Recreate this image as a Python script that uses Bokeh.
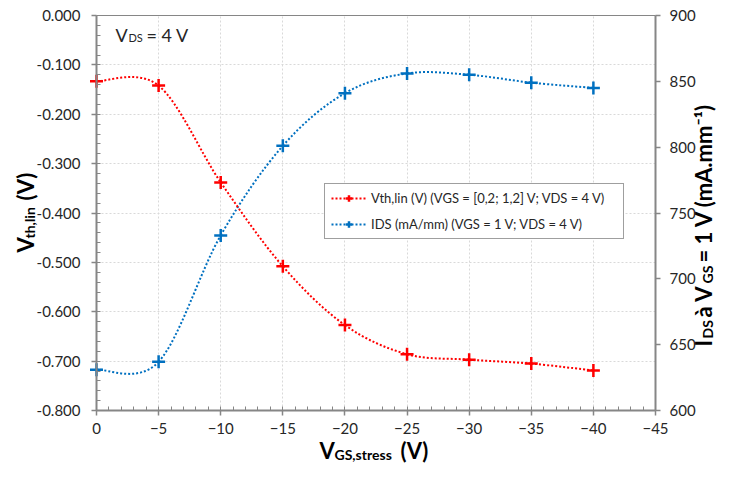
import numpy as np
from math import pi
from bokeh.plotting import figure
from bokeh.models import (Range1d, LinearAxis, FixedTicker, NumeralTickFormatter,
                          Label, Legend, LegendItem, ColumnDataSource, Grid)
from bokeh.embed import file_html
from bokeh.resources import INLINE

# ---- data ----
vgs_stress = [0, -5, -10, -15, -20, -25, -30, -35, -40]
vth_lin = [-0.133, -0.142, -0.338, -0.508, -0.627, -0.686, -0.697, -0.705, -0.719]
ids_ma_mm = [631, 637, 733, 801, 841, 856, 855, 849, 845]

x_ticks = [0, -5, -10, -15, -20, -25, -30, -35, -40, -45]
vth_ticks = [-0.8, -0.7, -0.6, -0.5, -0.4, -0.3, -0.2, -0.1, 0.0]
ids_ticks = [600, 650, 700, 750, 800, 850, 900]
legend_labels = ["Vth,lin (V) (VGS = [0,2; 1,2] V; VDS = 4 V)",
                 "IDS (mA/mm) (VGS = 1 V; VDS = 4 V)"]

RED = "#FF0000"
BLUE = "#0070C0"
GRAY = "#868686"
TXT = "#262626"
FONT = "Lato"

# ---- layout: canvas size and plot-box position (pixels) ----
W, H = 721, 467
PL, PR, PT, PB = 96, 655, 15, 410
X0, X1 = 0.0, -45.0          # x values at the left / right of the plot box
V_TOP, V_BOT = 0.0, -0.8     # left axis
I_TOP, I_BOT = 900.0, 600.0  # right axis


def x_at(px):
    return X0 + (px - PL) * (X1 - X0) / (PR - PL)


def v_at(py, top, bot):
    return top + (py - PT) * (bot - top) / (PB - PT)


def smooth_segments(xs, ys):
    n = len(xs)
    d = {k: [] for k in ("x0", "y0", "x1", "y1", "cx0", "cy0", "cx1", "cy1")}
    for i in range(n - 1):
        a = max(i - 1, 0)
        b = min(i + 2, n - 1)
        d["x0"].append(xs[i]); d["y0"].append(ys[i])
        d["x1"].append(xs[i + 1]); d["y1"].append(ys[i + 1])
        d["cx0"].append(xs[i] + (xs[i + 1] - xs[a]) / 6.0)
        d["cy0"].append(ys[i] + (ys[i + 1] - ys[a]) / 6.0)
        d["cx1"].append(xs[i + 1] - (xs[b] - xs[i]) / 6.0)
        d["cy1"].append(ys[i + 1] - (ys[b] - ys[i]) / 6.0)
    return ColumnDataSource(d)


p = figure(width=W, height=H, title=None,
           x_range=Range1d(x_at(0), x_at(W)),
           y_range=Range1d(v_at(H, V_TOP, V_BOT), v_at(0, V_TOP, V_BOT)),
           output_backend="svg", toolbar_location=None,
           min_border=0, min_border_left=0, min_border_right=0,
           min_border_top=0, min_border_bottom=0)
p.extra_y_ranges = {"ids": Range1d(v_at(H, I_TOP, I_BOT), v_at(0, I_TOP, I_BOT))}
p.background_fill_color = "white"
p.border_fill_color = "white"
p.outline_line_color = None

# axes pinned to the plot box
xa = p.xaxis[0]
xa.ticker = FixedTicker(ticks=x_ticks, minor_ticks=list(range(0, -46, -1)))
xa.fixed_location = V_BOT
xa.bounds = (X1, X0)

ya = p.yaxis[0]
ya.ticker = FixedTicker(ticks=vth_ticks,
                        minor_ticks=[round(v, 3) for v in np.arange(-0.8, 0.0001, 0.02)])
ya.formatter = NumeralTickFormatter(format="0.000")
ya.fixed_location = X0
ya.bounds = (V_BOT, V_TOP)

ra = LinearAxis(y_range_name="ids", ticker=FixedTicker(ticks=ids_ticks),
                fixed_location=X1, bounds=(I_BOT, I_TOP))
p.add_layout(ra, "right")

ta = LinearAxis(ticker=FixedTicker(ticks=[]), fixed_location=V_TOP, bounds=(X1, X0),
                major_label_text_alpha=0, major_tick_line_color=None,
                minor_tick_line_color=None, axis_line_color=GRAY, axis_line_width=1)
p.add_layout(ta, "above")

for ax in (xa, ya, ra):
    ax.axis_line_color = GRAY
    ax.axis_line_width = 2
    ax.major_tick_line_color = GRAY
    ax.major_tick_line_width = 1.5
    ax.major_tick_out = 5
    ax.major_tick_in = 0
    ax.minor_tick_line_color = GRAY
    ax.minor_tick_line_width = 1
    ax.minor_tick_in = 4
    ax.minor_tick_out = 0
    ax.major_label_text_font = FONT
    ax.major_label_text_font_size = "15px"
    ax.major_label_text_color = TXT
ra.minor_tick_line_color = None
xa.major_label_standoff = 7
ya.major_label_standoff = 11
ra.major_label_standoff = 9

has_cross = "cross_bounds" in Grid.properties()
gx, gy = p.xgrid[0], p.ygrid[0]
gx.ticker = xa.ticker
gy.ticker = ya.ticker
gx.bounds = (X1, X0)
gy.bounds = (V_BOT, V_TOP)
if has_cross:
    gx.cross_bounds = (V_BOT, V_TOP)
    gy.cross_bounds = (X1, X0)
for g in (gx, gy):
    g.grid_line_color = "#d9d9d9"
    g.grid_line_dash = "2 2"
    g.grid_line_width = 1

# ---- curves ----
src_r = smooth_segments(vgs_stress, vth_lin)
src_b = smooth_segments(vgs_stress, ids_ma_mm)
bz_b = p.bezier(x0="x0", y0="y0", x1="x1", y1="y1", cx0="cx0", cy0="cy0", cx1="cx1", cy1="cy1",
                source=src_b, line_color=BLUE, line_width=2, line_dash="2 2", y_range_name="ids")
bz_r = p.bezier(x0="x0", y0="y0", x1="x1", y1="y1", cx0="cx0", cy0="cy0", cx1="cx1", cy1="cy1",
                source=src_r, line_color=RED, line_width=2, line_dash="2 2")
sc_b = p.scatter(vgs_stress, ids_ma_mm, marker="cross", size=13, line_color=BLUE,
                 line_width=2.5, y_range_name="ids")
sc_r = p.scatter(vgs_stress, vth_lin, marker="cross", size=13, line_color=RED, line_width=2.5)

legend = Legend(items=[LegendItem(label=legend_labels[0], renderers=[bz_r, sc_r]),
                       LegendItem(label=legend_labels[1], renderers=[bz_b, sc_b])],
                location=(324, H - 239), orientation="vertical",
                border_line_color="#404040", border_line_width=1,
                background_fill_color="white", background_fill_alpha=1.0,
                padding=6, spacing=10, margin=0,
                glyph_width=35, glyph_height=16, label_height=16, label_standoff=5,
                label_width=246,
                label_text_font=FONT, label_text_font_size="13px", label_text_color=TXT)
p.add_layout(legend)


# ---- texts (canvas pixel positions, origin top-left) ----
def lab(text, X, Y, size, bold=False, angle=0.0):
    p.add_layout(Label(x=X, y=H - Y, x_units="screen", y_units="screen",
                       text=text, text_font=FONT, text_font_size=size,
                       text_font_style="bold" if bold else "normal",
                       text_color="black" if bold else TXT, angle=angle,
                       text_align="left", text_baseline="alphabetic"))


# VDS annotation
lab("V", 115, 34, "18px")
lab("DS", 128, 37, "11px")
lab("= 4 V", 146, 34, "18px")

# x axis title
lab("V", 319, 450, "22px", True)
lab("GS,stress", 334, 454, "14px", True)
lab("(V)", 400, 450, "22px", True)

# left axis title (rotated)
lab("V", 25, 252, "22px", True, pi / 2)
lab("th,lin", 29, 238, "14px", True, pi / 2)
lab("(V)", 25, 200, "22px", True, pi / 2)

# right axis title (rotated)
S = 346
lab("I", 703, S, "22px", True, pi / 2)
lab("DS", 707, S - 8, "14px", True, pi / 2)
lab(" à V", 703, S - 29, "22px", True, pi / 2)
lab("GS", 707, S - 63, "14px", True, pi / 2)
lab(" = 1 V (mA.mm\u207b\u00b9)", 703, S - 84, "22px", True, pi / 2)

open("out.html", "w").write(file_html(p, INLINE))
